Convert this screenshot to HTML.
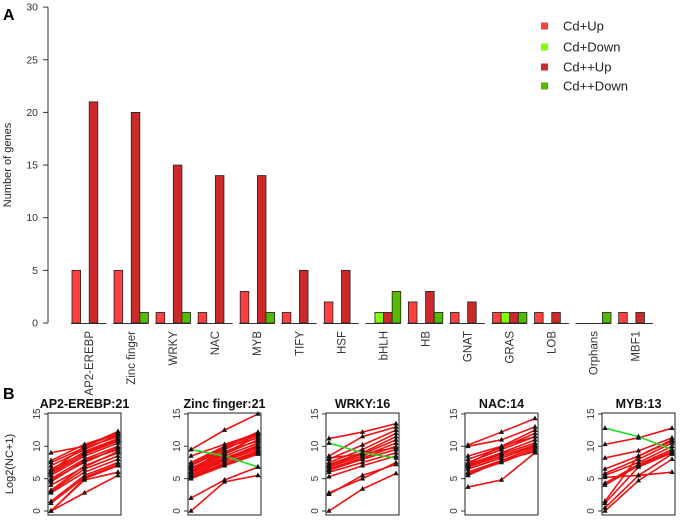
<!DOCTYPE html>
<html><head><meta charset="utf-8"><style>
body{margin:0;background:#fff;}
svg{display:block;font-family:"Liberation Sans",sans-serif;}
</style></head><body>
<svg id="c" width="680" height="523" viewBox="0 0 680 523"></svg>
<script>
const categories=["AP2-EREBP","Zinc finger","WRKY","NAC","MYB","TIFY","HSF","bHLH","HB","GNAT","GRAS","LOB","Orphans","MBF1"];
const cdUp=[5,5,1,1,3,1,2,0,2,1,1,1,0,1];
const cdDown=[0,0,0,0,0,0,0,1,0,0,1,0,0,0];
const cd2Up=[21,20,15,14,14,5,5,1,3,2,1,1,0,1];
const cd2Down=[0,1,1,0,1,0,0,3,1,0,1,0,1,0];
const yTicks=[0,5,10,15,20,25,30];
const seriesNames=["Cd+Up","Cd+Down","Cd++Up","Cd++Down"];
const seriesColors=["#ff4040","#80ff00","#cc2a2a","#55bb00"];
const panelTitles=["AP2-EREBP:21","Zinc finger:21","WRKY:16","NAC:14","MYB:13"];
const bTicks=[0,5,10,15];
const ap2Lines=[[9,10,12.3],[7.8,10.3,12],[7.5,9.8,11.5],[7,9.5,11.8],[6.5,9,11],[6,9.2,11.2],[5.5,8.5,10.5],[5,8,10],[4.8,7.5,9.8],[4.5,7.8,9.5],[3.2,7,9],[3,6.5,8.5],[2.8,6,8],[1.5,5.5,7.5],[1.2,5.2,7.2],[0,5,7],[0,4.8,6],[0,2.8,5.5],[6.2,10,12],[5.8,8.8,10.8],[4,6.8,9.2]];
const zincLines=[[9.5,12.5,15],[8.5,10.3,12],[7.5,10,12.2],[7,9.5,11.8],[6.5,9,11.5],[6.2,8.8,11],[6,8.5,10.5],[5.8,8.2,10],[5.5,8,9.8],[5.3,7.8,9.5],[5,7.5,9.2],[7.2,9.8,11.3],[6.8,8,10.2],[5.2,7.2,9],[6.6,9.2,10.8],[5.6,7,9.3],[2,4.8,6.8],[0,4.5,5.5],[6,9.9,12],[5,7,8.8]];
const zincDown=[[9.5,8.5,6.8]];
const wrkyLines=[[11.2,12.2,13.5],[8.5,11.5,13],[8,10.2,12.5],[7.5,9.5,12],[7.2,9,11.5],[7,8.8,11],[6.8,8.5,10.5],[6.5,8.2,10],[6.3,8,9.5],[6,7.5,9],[8.2,8.8,9.8],[5.3,7,8.5],[2.8,5,7.5],[2.6,5.5,7.2],[0,3.4,5.8]];
const wrkyDown=[[10.5,9,8.2]];
const nacLines=[[10.2,12.2,14.3],[10,11,13],[8.5,10,12.5],[8,9.8,12],[7.5,9.5,11.5],[7.2,9,11],[7,8.8,10.5],[6.8,8.5,10.2],[6.5,8.2,10],[6,7.8,9.8],[5.8,7.5,9.5],[5.5,7.8,9.2],[3.7,4.8,9],[7.3,10,11.5]];
const nacDown=[];
const mybLines=[[10.3,11.3,12.8],[8.2,9.3,11.3],[6.5,8.5,11],[5.8,8,10.5],[5.5,7.5,10],[4.3,7.2,9.5],[4,7,9.2],[1.5,8.5,10.8],[1.2,6.8,9],[0.5,5.5,8.8],[0,4.7,8],[5.2,5.5,6]];
const mybDown=[[12.8,11.5,9.5]];
const ap2Down=[];

const svg=document.getElementById('c');
const NS="http://www.w3.org/2000/svg";
function mk(tag,attrs,parent){const e=document.createElementNS(NS,tag);for(const k in attrs)e.setAttribute(k,attrs[k]);(parent||svg).appendChild(e);return e;}
function txt(s,attrs,parent){const e=mk('text',attrs,parent);e.textContent=s;return e;}

const y0=323,pxU=10.53;
const yA=v=>y0-v*pxU;
const gx=i=>72+i*42.05;
const slot=8.6;
let t=txt("A",{x:3,y:20,'font-size':16,'font-weight':'bold'});

let ax=mk('line',{x1:48,y1:yA(0),x2:48,y2:yA(30),stroke:'#333','stroke-width':1});

yTicks.forEach(v=>{
  const l=mk('line',{x1:43,x2:48,y1:yA(v),y2:yA(v),stroke:'#333'});
  
  const tt=txt(String(v),{x:38,y:yA(v)+3.5,'font-size':10.5,'text-anchor':'end',fill:'#333'});
  
});
t=txt("Number of genes",{x:0,y:0,'font-size':11,'text-anchor':'middle',fill:'#222',transform:`translate(11,165) rotate(-90)`});

const allSeries=[cdUp,cdDown,cd2Up,cd2Down];
categories.forEach((c,i)=>{
  const x=gx(i);
  const b=mk('line',{x1:x-1,x2:x+slot*4,y1:y0+0.5,y2:y0+0.5,stroke:'#333'});
  
  allSeries.forEach((s,k)=>{
    if(s[i]<=0)return;
    const r=mk('rect',{x:x+k*slot,y:yA(s[i]),width:slot,height:s[i]*pxU,fill:seriesColors[k],stroke:'#222','stroke-width':0.8});
    
    
  });
  const lx=x+17+4;
  const lt=txt(c,{x:0,y:0,'font-size':11.5,'text-anchor':'end',fill:'#333',transform:`translate(${lx},331) rotate(-90)`});
  
});
const lg=mk('g',{});

const legY=[26,47,67,86];
seriesNames.forEach((n,k)=>{
  const r=mk('rect',{x:541,y:legY[k]-3.5,width:7,height:7,fill:seriesColors[k]},lg);
  
  const tt=txt(n,{x:563,y:legY[k]+4.5,'font-size':13,fill:'#222'},lg);
  
});

t=txt("B",{x:3,y:399,'font-size':16,'font-weight':'bold'});

t=txt("Log2(NC+1)",{x:0,y:0,'font-size':11,'text-anchor':'middle',fill:'#222',transform:`translate(13,464) rotate(-90)`});

const boxL=[48,188,326,465,602];
const boxW=73;
const upSets=[ap2Lines,zincLines,wrkyLines,nacLines,mybLines];
const downSets=[ap2Down,zincDown,wrkyDown,nacDown,mybDown];
const bTop=413,bBot=515;
const yB=v=>511-v*6.47;
panelTitles.forEach((ttl,p)=>{
  const L=boxL[p];
  const g=mk('g',{});
  
  const tt=txt(ttl,{x:L+boxW/2,y:408,'font-size':12.5,'font-weight':'bold','text-anchor':'middle',fill:'#111'},g);
  
  bTicks.forEach(v=>{
    const l=mk('line',{x1:L-4,x2:L,y1:yB(v),y2:yB(v),stroke:'#333'},g);
    
    const tl=txt(String(v),{x:0,y:0,'font-size':10,'text-anchor':'middle',fill:'#333',transform:`translate(${L-8},${yB(v)}) rotate(-90)`},g);
    
  });
  const xs=[L+3,L+boxW/2,L+boxW-3];
  const draw=(set,col)=>set.forEach(tr=>{
    const pl=mk('polyline',{points:tr.map((v,j)=>xs[j]+','+yB(v)).join(' '),fill:'none',stroke:col,'stroke-width':1.6},g);
    
  });
  draw(upSets[p],'#ee1111');draw(downSets[p],'#22dd22');
  upSets[p].concat(downSets[p]).forEach(tr=>tr.forEach((v,j)=>{
    const x=xs[j],y=yB(v);
    const m=mk('polygon',{points:`${x},${y-3} ${x-2.6},${y+1.8} ${x+2.6},${y+1.8}`,fill:'#111'},g);
    
  }));
  const bx=mk('rect',{x:L,y:bTop,width:boxW,height:bBot-bTop,fill:'none',stroke:'#222','stroke-width':1},g);
  
});
</script>
</body></html>
